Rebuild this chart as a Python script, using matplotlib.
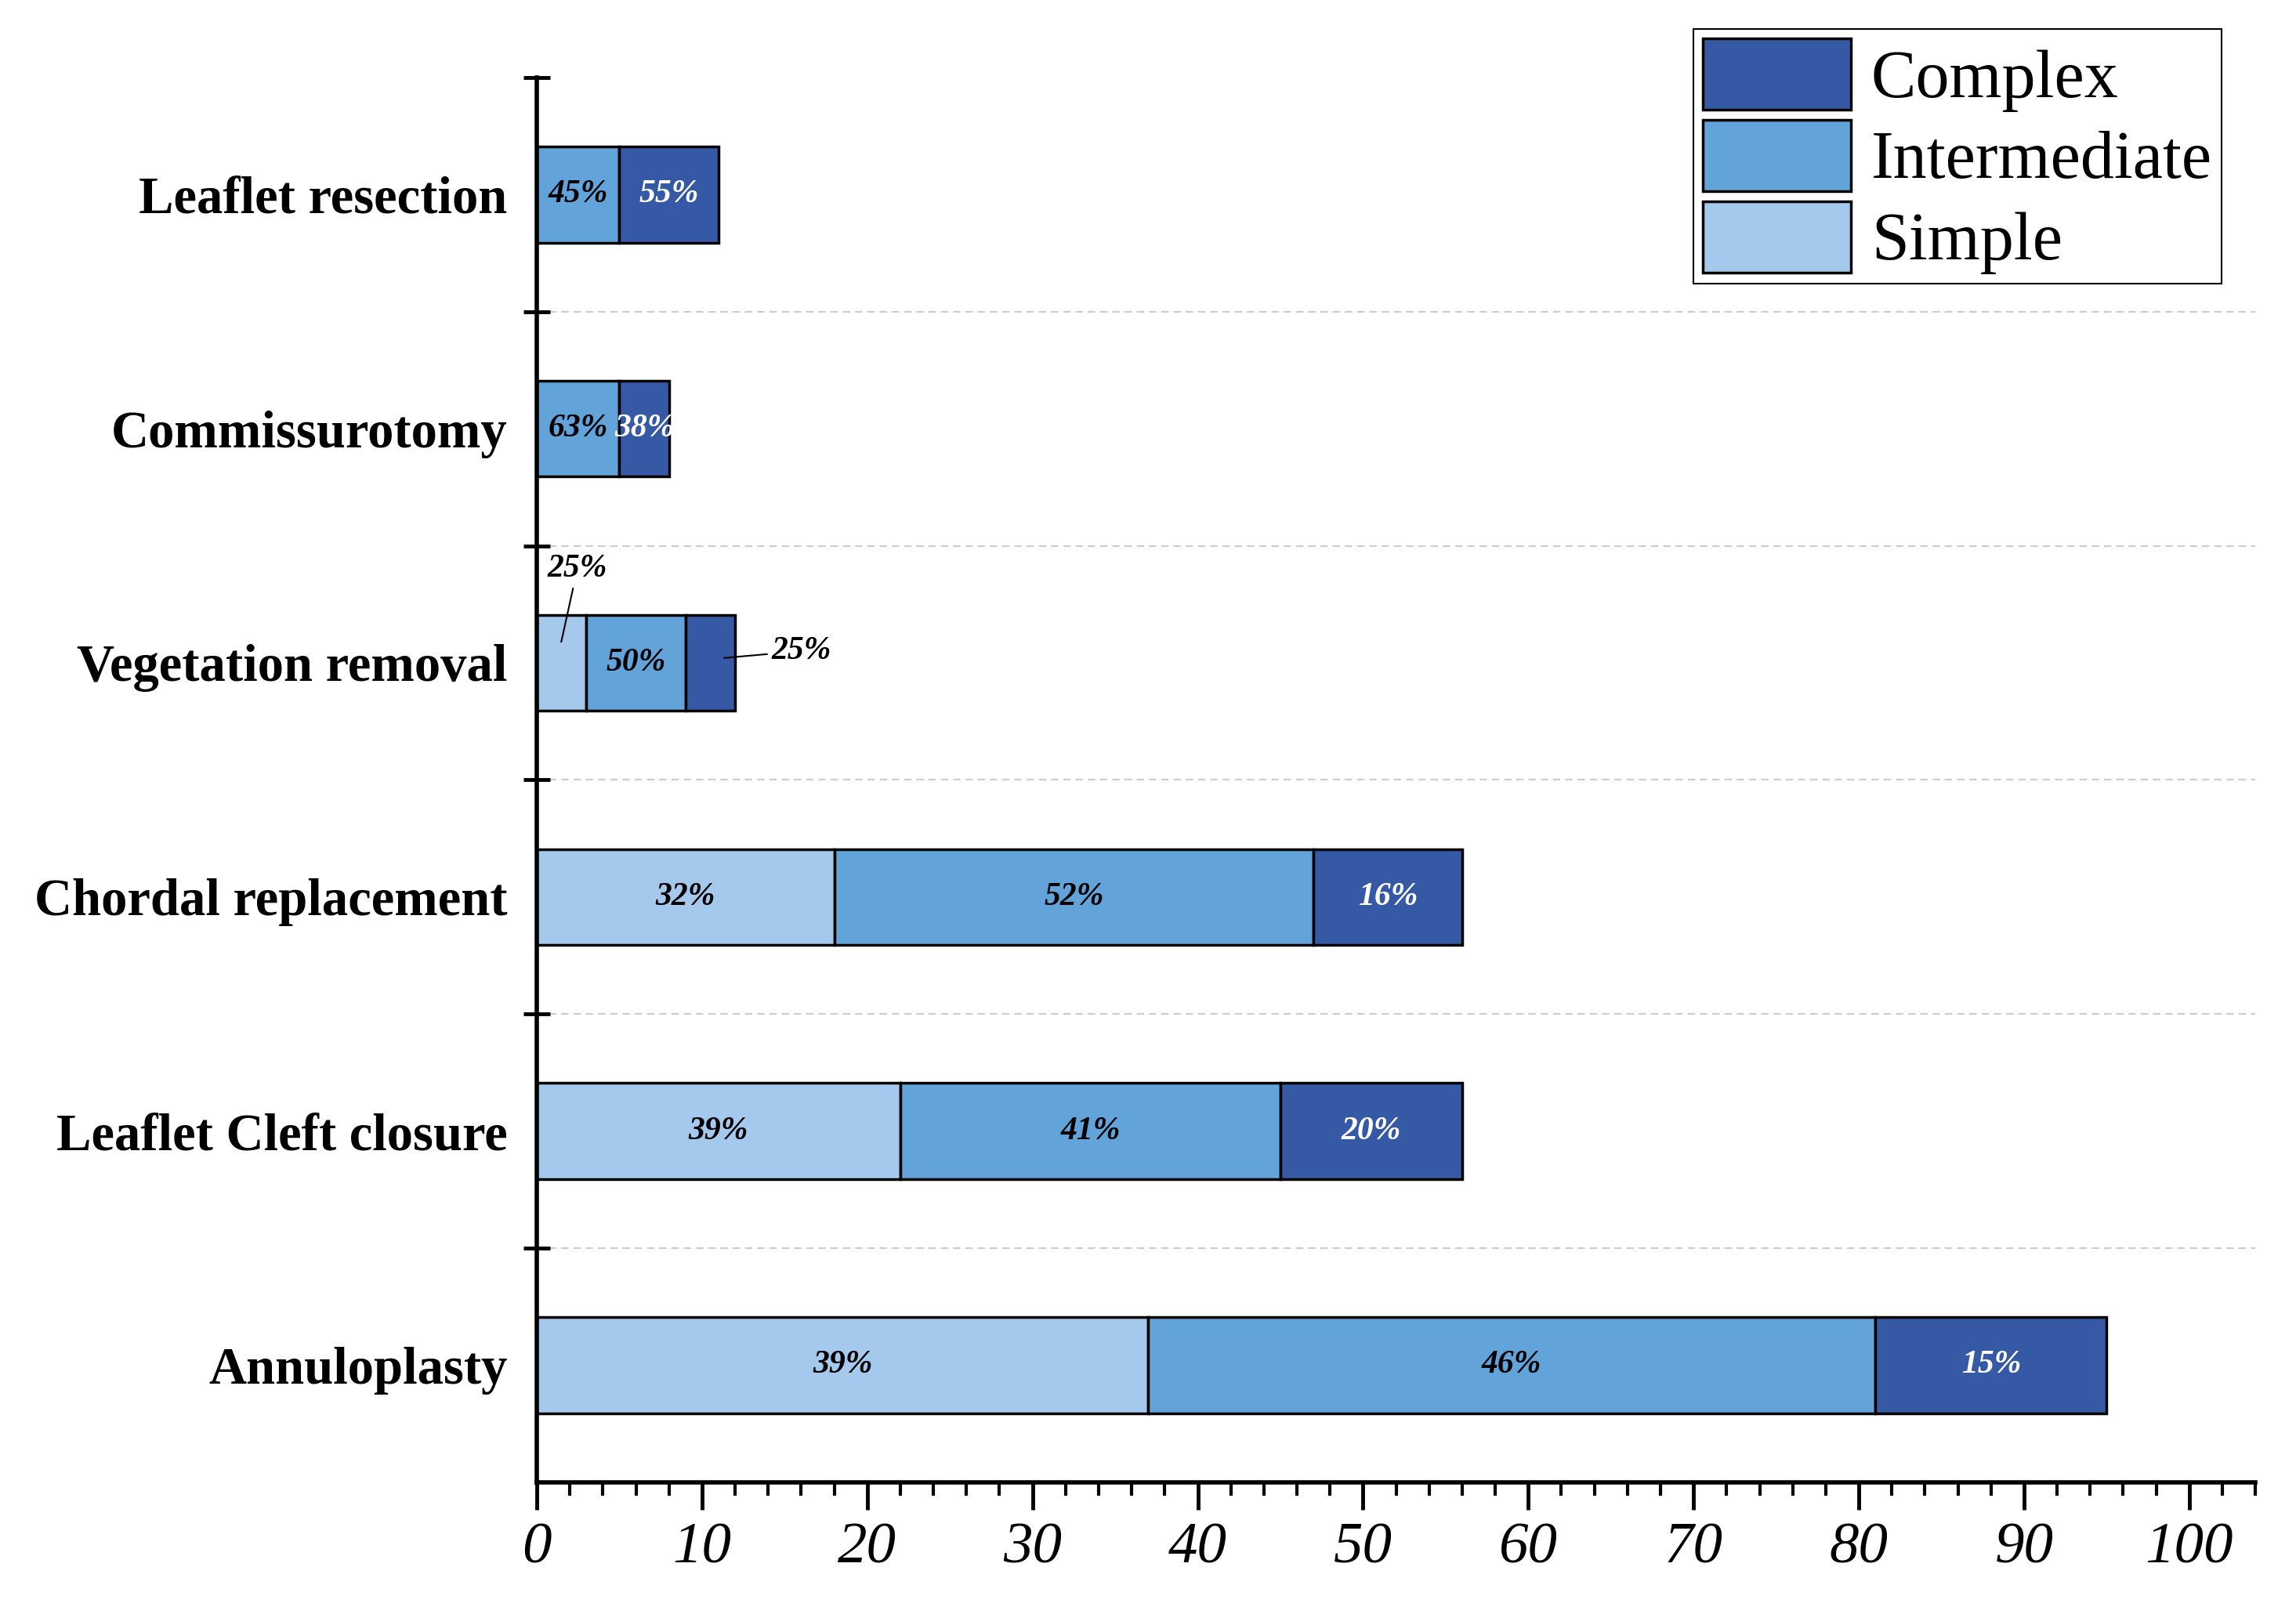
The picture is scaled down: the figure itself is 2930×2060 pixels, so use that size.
import math
import numpy as np
import matplotlib
matplotlib.use('Agg')
from matplotlib import pyplot as plt
from matplotlib.ticker import MultipleLocator

# procedures, bottom to top
procedures = ['Annuloplasty', 'Leaflet Cleft closure', 'Chordal replacement',
              'Vegetation removal', 'Commissurotomy', 'Leaflet resection']
simple = [37, 22, 18, 3, 0, 0]
intermediate = [44, 23, 29, 6, 5, 5]
complex_ = [14, 11, 9, 3, 3, 6]

series_names = ['Simple', 'Intermediate', 'Complex']
colors = ['#A5C9EC', '#62A3D9', '#3659A5']
text_colors = ['black', 'black', 'white']
x_ticks = list(range(0, 101, 10))

plt.rcParams['font.family'] = ['Liberation Serif', 'DejaVu Serif']

fig = plt.figure(figsize=(29.3, 20.6), dpi=100)
ax = fig.add_axes([0.2338, 0.0816, 0.9823 - 0.2338, 0.952 - 0.0816])

y = np.arange(len(procedures))
series = [simple, intermediate, complex_]
totals = [sum(v) for v in zip(*series)]

# dashed separators between categories
ax.hlines(y[:-1] + 0.5, 0, 104, colors='#cccccc', linewidth=1.5,
          linestyles=(0, (4.5, 3)), zorder=0)

left = np.zeros(len(procedures))
bars = []
for k, vals in enumerate(series):
    b = ax.barh(y, vals, left=left, height=0.41, color=colors[k],
                edgecolor='black', linewidth=2.5, label=series_names[k], zorder=2)
    bars.append(b)
    for i, v in enumerate(vals):
        if v == 0:
            continue
        pct = int(math.floor(v / totals[i] * 100 + 0.5))
        # vegetation removal: small end pieces get outside labels
        if procedures[i] == 'Vegetation removal' and k != 1:
            continue
        ax.text(left[i] + v / 2, y[i], '%d%%' % pct, ha='center', va='center',
                fontsize=30, fontweight='bold', fontstyle='italic',
                color=text_colors[k], zorder=3)
    left = left + np.array(vals)

iv = procedures.index('Vegetation removal')
p_s = int(math.floor(simple[iv] / totals[iv] * 100 + 0.5))
p_c = int(math.floor(complex_[iv] / totals[iv] * 100 + 0.5))
ax.annotate('%d%%' % p_s, xy=(1.45, iv + 0.08), xytext=(2.45, iv + 0.40),
            ha='center', va='center', fontsize=30, fontweight='bold', fontstyle='italic',
            arrowprops=dict(arrowstyle='-', color='black', lw=1.5), zorder=4)
ax.annotate('%d%%' % p_c, xy=(11.2, iv + 0.02), xytext=(14.2, iv + 0.05),
            ha='left', va='center', fontsize=30, fontweight='bold', fontstyle='italic',
            arrowprops=dict(arrowstyle='-', color='black', lw=1.5), zorder=4)

ax.set_xlim(0, 104)
ax.set_ylim(-0.5, len(procedures) - 0.5)

ax.set_xticks(x_ticks)
ax.xaxis.set_minor_locator(MultipleLocator(2))
ax.set_yticks(y)
ax.set_yticklabels(procedures)
ax.set_yticks(y + 0.5, minor=True)

ax.tick_params(axis='x', which='major', direction='out', length=25, width=3.5, pad=12)
ax.tick_params(axis='x', which='minor', direction='out', length=12, width=3)
ax.tick_params(axis='y', which='major', length=0, pad=27)
ax.tick_params(axis='y', which='minor', direction='inout', length=24, width=3.5)

plt.setp(ax.get_xticklabels(), fontsize=54, fontstyle='italic')
plt.setp(ax.get_yticklabels(), fontsize=48, fontweight='bold')

for s in ['top', 'right']:
    ax.spines[s].set_visible(False)
for s in ['left', 'bottom']:
    ax.spines[s].set_linewidth(4)

handles = [bars[2], bars[1], bars[0]]
leg = ax.legend(handles, ['Complex', 'Intermediate', 'Simple'],
                loc='upper right', bbox_to_anchor=(0.9676, 0.982),
                bbox_transform=fig.transFigure, borderaxespad=0,
                fontsize=62, handlelength=2.2, handleheight=1.25,
                labelspacing=0.12, handletextpad=0.3, borderpad=0.14,
                fancybox=False, framealpha=1, edgecolor='black')
leg.get_frame().set_linewidth(1.5)

plt.savefig('out.png', dpi=100)
